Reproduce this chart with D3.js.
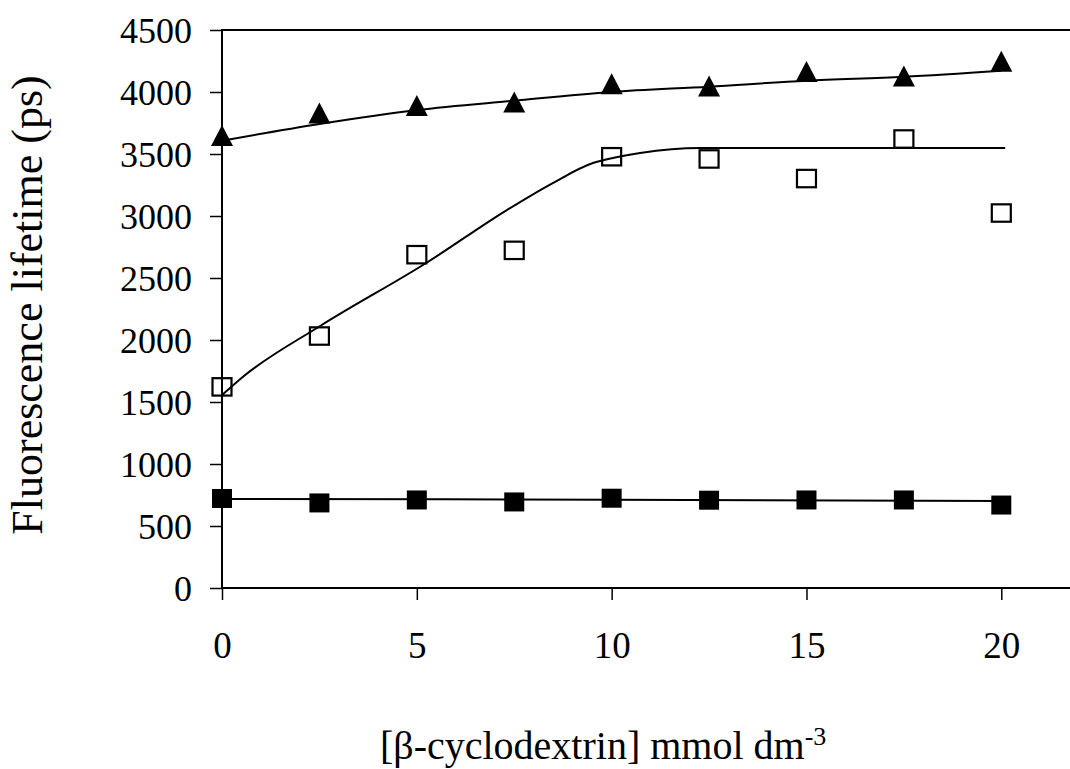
<html>
<head>
	<meta charset="utf-8" />
	<script src="https://d3js.org/d3.v7.min.js"></script>
	<style>
		body { margin:0; background:#fff; }
		text { font-family: "Liberation Serif", "Times New Roman", serif; fill:#000; }
	</style>
</head>
<body>
	<svg width="1070" height="769"></svg>

	<script type="text/javascript">

		// concentrazioni di beta-ciclodestrina (mmol dm-3)
		var conc = [0, 2.5, 5, 7.5, 10, 12.5, 15, 17.5, 20];

		// tempi di vita misurati (ps)
		var tauTriangoli = [3649, 3831, 3891, 3919, 4067, 4048, 4165, 4129, 4248];
		var tauQuadVuoti = [1622, 2032, 2688, 2723, 3478, 3460, 3302, 3621, 3024];
		var tauQuadPieni = [722, 686, 710, 694, 724, 708, 710, 710, 669];

		// curve di fit
		var fitTriX = [0, 2.5, 5, 7.5, 10, 12.5, 15, 17.5, 20];
		var fitTriY = [3607, 3742, 3855, 3930, 4000, 4043, 4091, 4123, 4172];
		var fitVuotiX = [0, 0.54, 2.52, 5.25, 7.31, 8.49, 9.52, 10.03, 10.73, 12.27, 20.1];
		var fitVuotiY = [1556, 1704, 2113, 2623, 3048, 3266, 3427, 3468, 3508, 3548, 3548];
		var fitPieniX = [0, 10, 20];
		var fitPieniY = [718, 712, 702];

		var xTicks = [0, 5, 10, 15, 20];
		var yTicks = [0, 500, 1000, 1500, 2000, 2500, 3000, 3500, 4000, 4500];

		var svg = d3.select("svg");

		// bordi dell'area del grafico
		var bordoSx = 222, bordoDx = 1072, bordoSu = 30, bordoGiu = 588;

		var x = d3.scaleLinear().domain([0, 20]).range([bordoSx, 1001.3]);
		var y = d3.scaleLinear().domain([0, 4500]).range([bordoGiu, bordoSu]);

		// assi
		var assY = svg.append("g")
			.attr("transform", "translate(" + bordoSx + ",0)")
			.call(d3.axisLeft(y).tickValues(yTicks).tickFormat(d3.format("d"))
				.tickSize(12).tickSizeOuter(0).tickPadding(18));
		assY.select(".domain").remove();
		assY.selectAll("line").attr("stroke", "#000").attr("stroke-width", 1.5);
		assY.selectAll("text")
			.attr("font-size", 36)
			.attr("font-family", "Liberation Serif")
			.attr("dy", "0.34em");

		var assX = svg.append("g")
			.attr("transform", "translate(0," + bordoGiu + ")")
			.call(d3.axisBottom(x).tickValues(xTicks).tickSize(12).tickSizeOuter(0));
		assX.select(".domain").remove();
		assX.selectAll("line").attr("stroke", "#000").attr("stroke-width", 1.5);
		assX.selectAll("text")
			.attr("font-size", 37)
			.attr("font-family", "Liberation Serif")
			.attr("dy", null)
			.attr("y", 70);

		// cornice (sopra, sinistra, sotto)
		svg.append("path")
			.attr("d", "M" + bordoDx + "," + bordoSu + "H" + bordoSx + "V" + bordoGiu + "H" + bordoDx)
			.attr("fill", "none")
			.attr("stroke", "#000")
			.attr("stroke-width", 2);

		// linee di fit
		var linea = d3.line()
			.x(function(d) { return x(d[0]); })
			.y(function(d) { return y(d[1]); })
			.curve(d3.curveMonotoneX);

		var fits = [
			d3.zip(fitTriX, fitTriY),
			d3.zip(fitVuotiX, fitVuotiY),
			d3.zip(fitPieniX, fitPieniY)
		];
		svg.selectAll(".fit").data(fits).enter().append("path")
			.attr("class", "fit")
			.attr("d", linea)
			.attr("fill", "none")
			.attr("stroke", "#000")
			.attr("stroke-width", 2);

		// triangoli pieni
		svg.selectAll(".tri").data(d3.zip(conc, tauTriangoli)).enter().append("path")
			.attr("class", "tri")
			.attr("transform", function(d) { return "translate(" + x(d[0]) + "," + y(d[1]) + ")"; })
			.attr("d", "M0,-10.5L11,10.5L-11,10.5Z")
			.attr("fill", "#000");

		// quadrati vuoti
		svg.selectAll(".qv").data(d3.zip(conc, tauQuadVuoti)).enter().append("rect")
			.attr("class", "qv")
			.attr("x", function(d) { return x(d[0]) - 9.5; })
			.attr("y", function(d) { return y(d[1]) - 8.7; })
			.attr("width", 19)
			.attr("height", 17.4)
			.attr("fill", "none")
			.attr("stroke", "#000")
			.attr("stroke-width", 2.2);

		// quadrati pieni
		svg.selectAll(".qp").data(d3.zip(conc, tauQuadPieni)).enter().append("rect")
			.attr("class", "qp")
			.attr("x", function(d) { return x(d[0]) - 10; })
			.attr("y", function(d) { return y(d[1]) - 9.5; })
			.attr("width", 20)
			.attr("height", 19)
			.attr("fill", "#000");

		// titoli degli assi
		svg.append("text")
			.attr("transform", "translate(42,305) rotate(-90)")
			.attr("text-anchor", "middle")
			.attr("font-size", 44)
			.text("Fluorescence lifetime (ps)");

		var titoloX = svg.append("text")
			.attr("x", 380)
			.attr("y", 759)
			.attr("font-size", 40);
		titoloX.append("tspan").text("[\u03B2-cyclodextrin] mmol dm");
		titoloX.append("tspan").attr("font-size", 26).attr("dy", -14).text("-3");

	</script>
</body>
</html>
